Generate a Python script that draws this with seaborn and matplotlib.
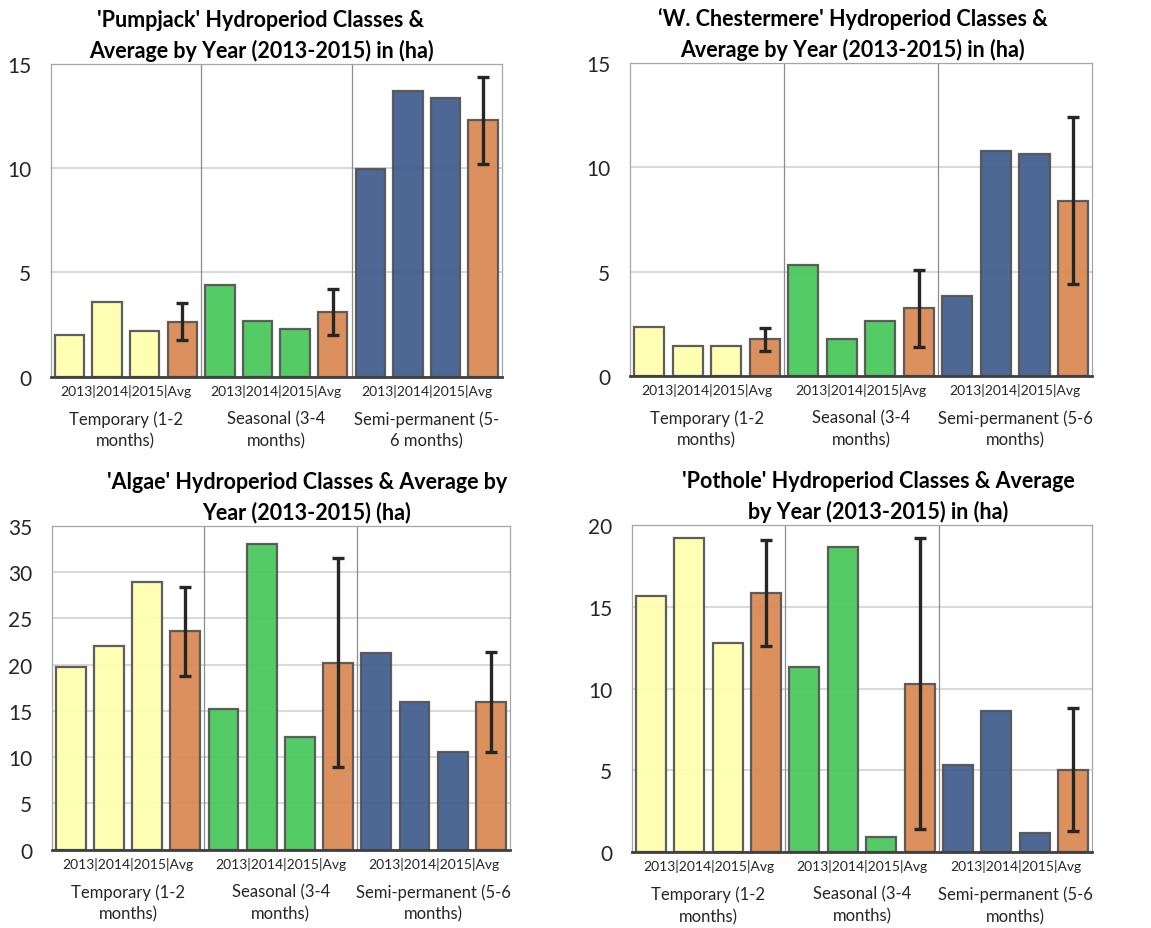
import numpy as np
import pandas as pd
import matplotlib
matplotlib.use("Agg")
import matplotlib.pyplot as plt
import seaborn as sns
from matplotlib.transforms import blended_transform_factory

# ---------------- data ----------------
years = ["2013", "2014", "2015", "Avg"]
class_names = ["Temporary", "Seasonal", "Semi-permanent"]

titles = [
    "'Pumpjack' Hydroperiod Classes &\nAverage by Year (2013-2015) in (ha)",
    "\u2018W. Chestermere' Hydroperiod Classes &\nAverage by Year (2013-2015) in (ha)",
    "'Algae' Hydroperiod Classes & Average by\nYear (2013-2015) (ha)",
    "'Pothole' Hydroperiod Classes & Average\nby Year (2013-2015) in (ha)",
]

group_labels_a = ["Temporary (1-2\nmonths)", "Seasonal (3-4\nmonths)", "Semi-permanent (5-\n6 months)"]
group_labels_b = ["Temporary (1-2\nmonths)", "Seasonal (3-4\nmonths)", "Semi-permanent (5-6\nmonths)"]
tick_text = "2013|2014|2015|Avg"

# yearly values (2013, 2014, 2015) per class
pumpjack_temp = [2.0, 3.58, 2.18]
pumpjack_seas = [4.38, 2.68, 2.29]
pumpjack_semi = [9.95, 13.7, 13.35]
pumpjack_avg = [2.64, 3.12, 12.3]
pumpjack_err = [0.88, 1.10, 2.08]

chest_temp = [2.35, 1.41, 1.44]
chest_seas = [5.31, 1.74, 2.64]
chest_semi = [3.81, 10.79, 10.64]
chest_avg = [1.74, 3.23, 8.40]
chest_err = [0.545, 1.865, 4.0]

algae_temp = [19.73, 22.0, 28.9]
algae_seas = [15.2, 33.0, 12.2]
algae_semi = [21.25, 15.92, 10.51]
algae_avg = [23.6, 20.2, 15.92]
algae_err = [4.81, 11.3, 5.38]

pothole_temp = [15.65, 19.19, 12.76]
pothole_seas = [11.29, 18.62, 0.92]
pothole_semi = [5.33, 8.65, 1.18]
pothole_avg = [15.85, 10.3, 5.05]
pothole_err = [3.24, 8.87, 3.74]

ymax = [15, 15, 35, 20]

panels = [
    (pumpjack_temp, pumpjack_seas, pumpjack_semi, pumpjack_avg, pumpjack_err),
    (chest_temp, chest_seas, chest_semi, chest_avg, chest_err),
    (algae_temp, algae_seas, algae_semi, algae_avg, algae_err),
    (pothole_temp, pothole_seas, pothole_semi, pothole_avg, pothole_err),
]
group_labels = [group_labels_a, group_labels_b, group_labels_b, group_labels_b]

# ---------------- style ----------------
class_colors = ["#FFFFB0", "#4CC95E", "#44608F"]
avg_color = "#D98A54"
edge_color = "#555555"

sns.set_theme(style="white")
plt.rcParams["font.family"] = ["Lato", "DejaVu Sans"]

fig = plt.figure(figsize=(11.51, 9.29), dpi=100)
rects = [
    [0.0440, 0.5934, 0.3921, 0.3366],
    [0.5471, 0.5945, 0.4019, 0.3363],
    [0.0449, 0.0843, 0.3982, 0.3488],
    [0.5488, 0.0815, 0.4002, 0.3526],
]
title_x = [0.466, 0.482, 0.557, 0.535]

for i, (rect, data) in enumerate(zip(rects, panels)):
    ax = fig.add_axes(rect)
    temp, seas, semi, avg, err = data
    slots, values, colors = [], [], []
    for c, (cname, vals) in enumerate(zip(class_names, [temp, seas, semi])):
        for y, v in zip(years[:3], vals):
            slots.append(f"{cname} {y}")
            values.append(v)
            colors.append(class_colors[c])
        slots.append(f"{cname} Avg")
        values.append(avg[c])
        colors.append(avg_color)
    df = pd.DataFrame({"slot": slots, "ha": values})

    ax.yaxis.grid(True, color="#d9d9d9", linewidth=1.5, zorder=0)
    ax.set_axisbelow(True)
    sns.barplot(data=df, x="slot", y="ha", hue="slot", order=slots, hue_order=slots,
                palette=colors, saturation=1, dodge=False, legend=False, width=0.78,
                edgecolor=edge_color, linewidth=1.6, alpha=0.95, ax=ax, zorder=2)
    avg_x = [slots.index(f"{c} Avg") for c in class_names]
    ax.errorbar(avg_x, avg, yerr=err, fmt="none", ecolor="#262626",
                elinewidth=2.4, capsize=4.5, capthick=2.4, zorder=5)

    ax.set_xlim(-0.5, 11.5)
    ax.set_ylim(0, ymax[i])
    ax.set_yticks(np.arange(0, ymax[i] + 1, 5))
    ax.tick_params(axis="y", length=0, pad=14, labelsize=15, labelcolor="#262626")

    centers = [1.5, 5.5, 9.5]
    ax.set_xticks(centers, [tick_text] * 3)
    ax.set_xticks([-0.5, 3.5, 7.5, 11.5], minor=True)
    ax.tick_params(axis="x", which="major", length=0, pad=5, labelsize=10, labelcolor="#262626")
    ax.tick_params(axis="x", which="minor", length=5, width=1.5, color="#404040", direction="out")
    ax.set_xlabel("")
    ax.set_ylabel("")

    for xs in [3.5, 7.5]:
        ax.axvline(xs, color="#8c8c8c", linewidth=0.9, zorder=1)

    for side in ["top", "right", "left"]:
        ax.spines[side].set_color("#a6a6a6")
        ax.spines[side].set_linewidth(0.9)
    ax.spines["bottom"].set_color("#404040")
    ax.spines["bottom"].set_linewidth(2.0)

    trans = blended_transform_factory(ax.transData, ax.transAxes)
    for cx, lab in zip(centers, group_labels[i]):
        ax.annotate(lab, xy=(cx, 0), xycoords=trans, xytext=(0, -24),
                    textcoords="offset points", ha="center", va="top",
                    fontsize=12, linespacing=1.45, color="#262626")

    ax.set_title(titles[i], x=title_x[i], fontsize=15.5, fontweight="bold",
                 linespacing=1.5, pad=5, color="#000000")

fig.savefig("out.png", dpi=100)
